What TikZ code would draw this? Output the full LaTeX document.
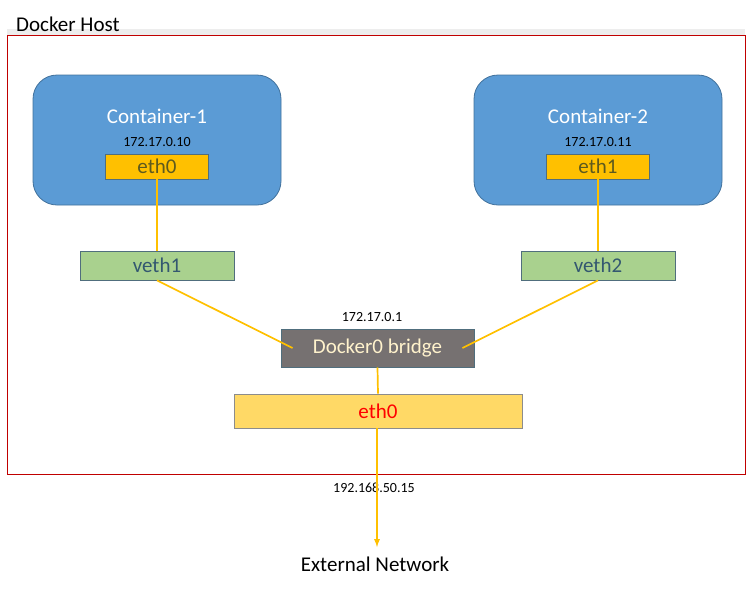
\documentclass[tikz,border=0pt]{standalone}
\usepackage{fontspec}
\setmainfont{Carlito}
\usepackage{tikz}
\usetikzlibrary{positioning,arrows}
\definecolor{contblue}{RGB}{91,155,213}
\definecolor{contedge}{RGB}{65,113,156}
\definecolor{ethgold}{RGB}{255,192,0}
\definecolor{ethtext}{RGB}{94,90,30}
\definecolor{vethgreen}{RGB}{169,209,142}
\definecolor{vethedge}{RGB}{80,110,125}
\definecolor{vethtext}{RGB}{52,88,112}
\definecolor{bridgegray}{RGB}{118,113,113}
\definecolor{bridgetext}{RGB}{255,242,204}
\definecolor{hostyellow}{RGB}{255,217,102}
\definecolor{hostred}{RGB}{192,0,0}
\newcommand{\bigfont}{\fontsize{21}{24}\selectfont}
\newcommand{\ipfont}{\fontsize{14}{16}\selectfont}

\begin{document}
\begin{tikzpicture}[x=1pt,y=-1pt]
 \tikzset{box/.style={draw,line width=0.8pt,inner sep=0pt,font=\bigfont},
  container/.style={box,rounded corners=24pt,fill=contblue,draw=contedge,
   minimum width=248pt,minimum height=130pt},
  iface/.style={box,fill=ethgold,draw=vethedge,text=ethtext,minimum width=103pt,minimum height=25pt},
  veth/.style={box,fill=vethgreen,draw=vethedge,text=vethtext,minimum width=154pt,minimum height=29pt},
  ip/.style={inner sep=0pt,font=\ipfont},
  wire/.style={draw=ethgold,line width=1.7pt}}
 \useasboundingbox (0,0) rectangle (755,595);

 % host
 \fill[black!7] (7,29) rectangle (745,35);
 \node[anchor=base west,inner sep=0pt,font=\bigfont] (hostlbl) at (16,31) {Docker Host};
 \node[draw=hostred,line width=0.9pt,minimum width=738pt,minimum height=439pt,inner sep=0pt] (host) at (376,254.5) {};

 % containers
 \node[container] (cont1) at (157,140) {};
 \node[text=white,font=\bigfont,inner sep=0pt] (c1name) at (157,116) {Container-1};
 \node[ip] (c1ip) at (157,142) {172.17.0.10};
 \node[iface] (c1eth) at (157,166.5) {eth0};

 \node[container] (cont2) at (598,140) {};
 \node[text=white,font=\bigfont,inner sep=0pt] (c2name) at (598,116) {Container-2};
 \node[ip] (c2ip) at (598,142) {172.17.0.11};
 \node[iface] (c2eth) at (598,166.5) {eth1};

 % veth pairs
 \node[veth] (veth1) at (157,265.5) {veth1};
 \node[veth] (veth2) at (598,265.5) {veth2};

 % bridge and host nic
 \node[ip] (brip) at (372,317) {172.17.0.1};
 \node[box,fill=bridgegray,draw=vethedge,text=bridgetext,minimum width=193pt,minimum height=38pt] (bridge) at (377.5,348) {Docker0 bridge};
 \node[box,fill=hostyellow,draw=black!45,text=red,minimum width=288pt,minimum height=34pt] (hosteth) at (378,411) {eth0};

 \node[ip] (extip) at (374,488) {192.168.50.15};
 \node[font=\bigfont,inner sep=0pt] (ext) at (375,564) {External Network};
 \coordinate (tip) at (377,547);

 \draw[wire] (c1eth.south) -- (veth1.north);
 \draw[wire] (c2eth.south) -- (veth2.north);
 \draw[wire] (veth1.south) -- ([xshift=12pt]bridge.west);
 \draw[wire] (veth2.south) -- ([xshift=-12pt]bridge.east);
 \draw[wire] (bridge.south) -- (hosteth.north);
 \draw[wire,-latex] ([xshift=-1pt]hosteth.south) -- (tip);
\end{tikzpicture}
\end{document}
